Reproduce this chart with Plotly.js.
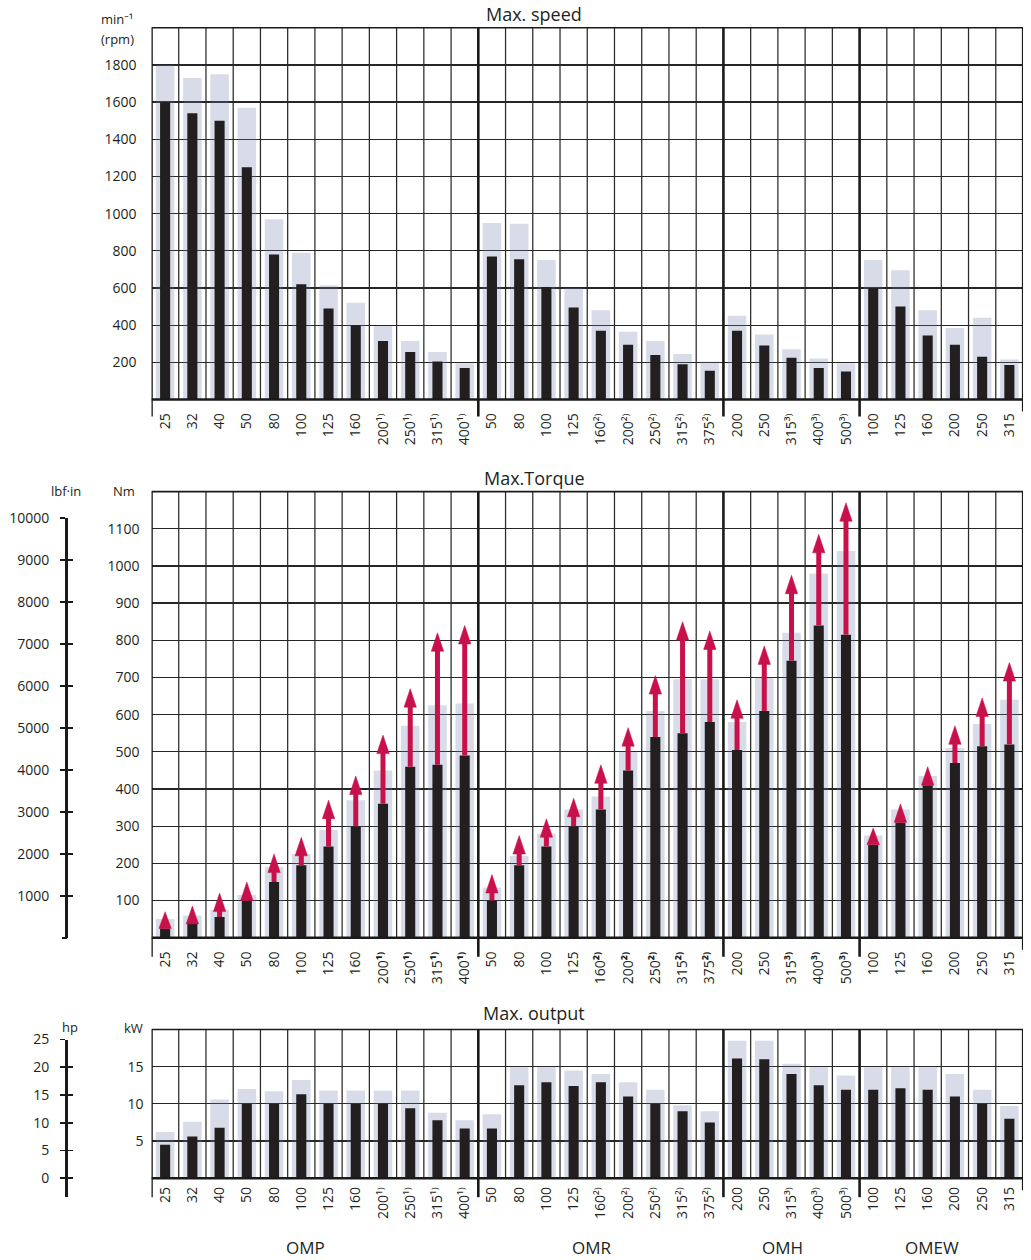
<!DOCTYPE html>
<html><head><meta charset="utf-8">
<script src="https://cdn.plot.ly/plotly-3.0.1.min.js"></script>
<style>html,body{margin:0;padding:0;background:#fff}</style>
</head><body><div id="chart" style="width:1031px;height:1260px"></div>
<script>
// ---------- DATA ----------
const groupNames = ['OMP', 'OMR', 'OMH', 'OMEW'];
const sizesOMP  = ['25','32','40','50','80','100','125','160','200','250','315','400'];
const notesOMP  = ['','','','','','','','','¹⁾','¹⁾','¹⁾','¹⁾'];
const sizesOMR  = ['50','80','100','125','160','200','250','315','375'];
const notesOMR  = ['','','','','²⁾','²⁾','²⁾','²⁾','²⁾'];
const sizesOMH  = ['200','250','315','400','500'];
const notesOMH  = ['','','³⁾','³⁾','³⁾'];
const sizesOMEW = ['100','125','160','200','250','315'];
const notesOMEW = ['','','','','',''];

// Max. speed (min-1): intermittent (light) and continuous (black)
const speedInt  = [1800,1730,1750,1570,970,790,615,520,395,315,255,195, 950,945,750,600,480,365,315,245,205, 450,350,270,220,195, 750,695,480,385,440,215];
const speedCont = [1600,1540,1500,1250,780,620,490,400,315,255,205,170, 770,755,605,495,370,295,240,190,155, 370,290,225,170,150, 600,500,345,295,230,185];

// Max. torque (Nm): intermittent (light), continuous (black), peak (arrow tip)
const torqueInt  = [50,60,75,115,190,225,290,370,450,570,625,630, 135,220,280,345,380,500,610,695,695, 580,700,820,980,1040, 275,345,435,510,575,640];
const torqueCont = [25,37,56,100,150,195,245,300,360,460,465,490, 100,195,245,300,345,450,540,550,580, 505,610,745,840,815, 250,310,410,470,515,520];
const torquePeak = [70,85,120,150,225,270,370,435,545,670,820,840, 170,275,320,375,465,565,705,850,825, 640,785,975,1085,1170, 295,360,460,570,645,740];

// Max. output (kW): intermittent (light) and continuous (black)
const outputInt  = [6.2,7.6,10.6,12,11.7,13.2,11.8,11.8,11.8,11.8,8.8,7.8, 8.6,15,15,14.5,14,12.9,11.9,9.8,9.0, 18.5,18.5,15.4,15,13.8, 15,15,15,14,11.9,9.7];
const outputCont = [4.5,5.6,6.8,10,10,11.3,10,10,10,9.4,7.8,6.7, 6.7,12.5,12.9,12.4,12.9,11,10,9,7.5, 16.1,16,14,12.5,11.9, 11.9,12.1,11.9,11,10,8];

// Tick values
const speedTicks  = [200,400,600,800,1000,1200,1400,1600,1800];
const torqueTicks = [100,200,300,400,500,600,700,800,900,1000,1100];
const outputTicks = [5,10,15];
const lbfTicks    = [0,1000,2000,3000,4000,5000,6000,7000,8000,9000,10000];
const hpTicks     = [0,5,10,15,20,25];

// ---------- BUILD ----------
const W = 1031, H = 1260;
const FONT = 'Open Sans, Noto Sans, DejaVu Sans, sans-serif';
const INK = '#231f20';
const LIGHT = 'rgba(109,124,170,0.27)';
const RED = '#c8104a';
const NM_PER_LBFIN = 0.112985, KW_PER_HP = 0.7457;

const sizes = [].concat(sizesOMP, sizesOMR, sizesOMH, sizesOMEW);
const notes = [].concat(notesOMP, notesOMR, notesOMH, notesOMEW);
const groupLens = [sizesOMP.length, sizesOMR.length, sizesOMH.length, sizesOMEW.length];
const N = sizes.length;
const idx = sizes.map((_, i) => i);
const textNormal = sizes.map((s, i) => s + notes[i]);
const textBold = sizes.map((s, i) => notes[i] ? s + '<b>' + notes[i] + '</b>' : s);

const pxX = v => v / W;
const pxY = v => 1 - v / H;
const XL = 151.5, XR = 1023;

const panels = [
  {top: 27.8,   bottom: 399.5,  ymax: 2000, ticks: speedTicks,  text: textNormal, light: speedInt,  dark: speedCont,  ext: 17, stand: 10, ystand: 14},
  {top: 491.6,  bottom: 937.7,  ymax: 1200, ticks: torqueTicks, text: textBold,   light: torqueInt, dark: torqueCont, ext: 19, stand: 10, ystand: 11},
  {top: 1029.5, bottom: 1178.2, ymax: 20,   ticks: outputTicks, text: textNormal, light: outputInt, dark: outputCont, ext: 19, stand: 5,  ystand: 7}
];

const traces = [];
const layout = {
  width: W, height: H,
  margin: {l: 0, r: 0, t: 0, b: 0},
  paper_bgcolor: '#ffffff', plot_bgcolor: 'rgba(0,0,0,0)',
  showlegend: false, hovermode: false,
  barmode: 'overlay',
  font: {family: FONT, color: INK, size: 14},
  shapes: [], annotations: []
};

const groupEnds = [];
{ let c = 0; groupLens.forEach(l => { c += l; groupEnds.push(c - 0.5); }); }

panels.forEach((p, k) => {
  const n = k + 1;
  const xa = 'x' + (n === 1 ? '' : n), ya = 'y' + (n === 1 ? '' : n);
  const xKey = 'xaxis' + (n === 1 ? '' : n), yKey = 'yaxis' + (n === 1 ? '' : n);
  const d0 = pxY(p.bottom), d1 = pxY(p.top);
  layout[xKey] = {
    domain: [pxX(XL), pxX(XR)], anchor: ya, range: [-0.5, N - 0.5],
    tickmode: 'array', tickvals: idx, ticktext: p.text, tickangle: -90,
    showgrid: false, zeroline: false, showline: false, ticks: '',
    ticklabelstandoff: p.stand,
    tickfont: {family: FONT, size: 14, color: INK}, fixedrange: true
  };
  layout[yKey] = {
    domain: [d0, d1], anchor: xa, range: [0, p.ymax],
    tickmode: 'array', tickvals: p.ticks, ticktext: p.ticks.map(String),
    showgrid: true, gridcolor: '#262626', gridwidth: 1.3,
    zeroline: false, showline: false, ticks: '', ticklabelstandoff: p.ystand,
    tickfont: {family: FONT, size: 14, color: INK}, fixedrange: true
  };
  traces.push({type: 'bar', x: idx, y: p.light, width: 0.68, marker: {color: LIGHT, line: {width: 0}}, xaxis: xa, yaxis: ya, hoverinfo: 'skip'});
  traces.push({type: 'bar', x: idx, y: p.dark, width: 0.37, marker: {color: INK, line: {width: 0}}, xaxis: xa, yaxis: ya, hoverinfo: 'skip'});

  const yb = d0, yt = d1, ybExt = pxY(p.bottom + p.ext);
  for (let i = 0; i < N - 1; i++) {
    const b = i + 0.5;
    const isGroup = groupEnds.includes(b);
    layout.shapes.push({type: 'line', xref: xa, yref: 'paper', x0: b, x1: b,
      y0: isGroup ? ybExt : yb, y1: yt,
      line: {color: isGroup ? '#1a1a1a' : '#2a2a2a', width: isGroup ? 2.6 : 1.25}, layer: 'above'});
  }
  layout.shapes.push({type: 'line', xref: xa, yref: 'paper', x0: -0.5, x1: -0.5, y0: ybExt, y1: yt, line: {color: '#1a1a1a', width: 2.6}, layer: 'above'});
  layout.shapes.push({type: 'line', xref: xa, yref: 'paper', x0: N - 0.5, x1: N - 0.5, y0: pxY(p.bottom + 12), y1: yt, line: {color: '#1a1a1a', width: 2.2}, layer: 'above'});
  layout.shapes.push({type: 'line', xref: xa, yref: 'paper', x0: -0.5, x1: N - 0.5, y0: yb, y1: yb, line: {color: '#1a1a1a', width: 2.6}, layer: 'above'});
  layout.shapes.push({type: 'line', xref: xa, yref: 'paper', x0: -0.5, x1: N - 0.5, y0: yt, y1: yt, line: {color: '#1a1a1a', width: 1.6}, layer: 'above'});
});

// Torque arrows (continuous -> peak)
{
  const p = panels[1];
  const pxPerNm = (p.bottom - p.top) / p.ymax;
  const headLen = 18.5 / pxPerNm;
  const headHalf = 6.2 / 27.25;
  const sx = [], sy = [], hx = [], hy = [];
  torquePeak.forEach((tip, i) => {
    const cont = torqueCont[i];
    const base = Math.max(cont, tip - headLen);
    if (base > cont) { sx.push(i, i, null); sy.push(cont, base + 2, null); }
    hx.push(i - headHalf, i + headHalf, i, i - headHalf, null);
    hy.push(base, base, tip, base, null);
  });
  traces.push({type: 'scatter', mode: 'lines', x: sx, y: sy, line: {color: RED, width: 5}, xaxis: 'x2', yaxis: 'y2', hoverinfo: 'skip', connectgaps: false});
  traces.push({type: 'scatter', mode: 'lines', x: hx, y: hy, fill: 'toself', fillcolor: RED, line: {color: RED, width: 0.5}, xaxis: 'x2', yaxis: 'y2', hoverinfo: 'skip', connectgaps: false});
}

// Secondary unit axes: lbf·in (torque) and hp (output)
{
  const p = panels[1];
  const pxPerNm = (p.bottom - p.top) / p.ymax;
  const lbfTopPx = p.bottom - lbfTicks[lbfTicks.length - 1] * NM_PER_LBFIN * pxPerNm;
  const dom = [pxY(p.bottom), pxY(lbfTopPx)];
  const axX = 67.7;
  layout.xaxis4 = {domain: [pxX(axX), pxX(axX + 1)], anchor: 'y4', visible: false, range: [0, 1], fixedrange: true};
  const lbfBase = {domain: dom, anchor: 'x4', range: [0, lbfTicks[lbfTicks.length - 1]], tickmode: 'array', tickvals: lbfTicks,
    showgrid: false, zeroline: false, fixedrange: true, tickcolor: '#1a1a1a', tickwidth: 1.8, ticklen: 5};
  layout.yaxis4 = Object.assign({}, lbfBase, {side: 'left', showline: true, linecolor: '#1a1a1a', linewidth: 2.6, ticks: 'outside',
    tickvals: lbfTicks.slice(1), ticktext: lbfTicks.slice(1).map(String), ticklabelstandoff: 8, tickfont: {family: FONT, size: 14, color: INK}});
  layout.yaxis6 = Object.assign({}, lbfBase, {overlaying: 'y4', side: 'left', showline: false, ticks: 'inside', showticklabels: false});
  layout.yaxis8 = Object.assign({}, lbfBase, {overlaying: 'y4', side: 'left', showline: false, ticks: 'outside', tickvals: lbfTicks.slice(0, 1), showticklabels: false});
  traces.push({type: 'scatter', mode: 'markers', x: [0], y: [0], marker: {opacity: 0}, xaxis: 'x4', yaxis: 'y4', hoverinfo: 'skip'});
  traces.push({type: 'scatter', mode: 'markers', x: [0], y: [0], marker: {opacity: 0}, xaxis: 'x4', yaxis: 'y6', hoverinfo: 'skip'});
  traces.push({type: 'scatter', mode: 'markers', x: [0], y: [0], marker: {opacity: 0}, xaxis: 'x4', yaxis: 'y8', hoverinfo: 'skip'});

  const q = panels[2];
  const pxPerKw = (q.bottom - q.top) / q.ymax;
  const pxPerHp = pxPerKw * KW_PER_HP;
  const hpMax = hpTicks[hpTicks.length - 1];
  const botPx = 1197;
  const hpMin = -(botPx - q.bottom) / pxPerHp;
  const hpTopPx = q.bottom - hpMax * pxPerHp;
  const hdom = [pxY(botPx), pxY(hpTopPx)];
  layout.xaxis5 = {domain: [pxX(axX), pxX(axX + 1)], anchor: 'y5', visible: false, range: [0, 1], fixedrange: true};
  const hpBase = {domain: hdom, anchor: 'x5', range: [hpMin, hpMax], tickmode: 'array', tickvals: hpTicks,
    showgrid: false, zeroline: false, fixedrange: true, tickcolor: '#1a1a1a', tickwidth: 1.8, ticklen: 5};
  layout.yaxis5 = Object.assign({}, hpBase, {side: 'left', showline: true, linecolor: '#1a1a1a', linewidth: 2.6, ticks: 'outside',
    ticktext: hpTicks.map(String), ticklabelstandoff: 8, tickfont: {family: FONT, size: 14, color: INK}});
  layout.yaxis7 = Object.assign({}, hpBase, {overlaying: 'y5', side: 'left', showline: false, ticks: 'inside', showticklabels: false});
  traces.push({type: 'scatter', mode: 'markers', x: [0], y: [0], marker: {opacity: 0}, xaxis: 'x5', yaxis: 'y5', hoverinfo: 'skip'});
  traces.push({type: 'scatter', mode: 'markers', x: [0], y: [0], marker: {opacity: 0}, xaxis: 'x5', yaxis: 'y7', hoverinfo: 'skip'});
}

// Text annotations
function note(text, x, y, size, anchor) {
  layout.annotations.push({text: text, xref: 'paper', yref: 'paper', x: pxX(x), y: pxY(y),
    xanchor: anchor || 'center', yanchor: 'middle', showarrow: false,
    font: {family: FONT, size: size, color: INK}});
}
note('Max. speed', 534, 14, 18);
note('Max.Torque', 534, 478, 18);
note('Max. output', 534, 1013, 18);
note('min⁻¹', 99, 19, 13, 'left');
note('(rpm)', 99, 39, 13, 'left');
note('lbf·in', 66, 491, 13);
note('Nm', 124, 491, 13);
note('hp', 70, 1027, 13);
note('kW', 133, 1028, 13);

// Group labels under the bottom panel
{
  let start = 0;
  groupNames.forEach((g, gi) => {
    const c = start + (groupLens[gi] - 1) / 2;
    layout.annotations.push({text: g, xref: 'x3', yref: 'paper', x: c, y: pxY(1247), xshift: -9,
      xanchor: 'center', yanchor: 'middle', showarrow: false, font: {family: FONT, size: 17, color: INK}});
    start += groupLens[gi];
  });
}

Plotly.newPlot('chart', traces, layout, {staticPlot: true, displayModeBar: false});
</script>
</body></html>
